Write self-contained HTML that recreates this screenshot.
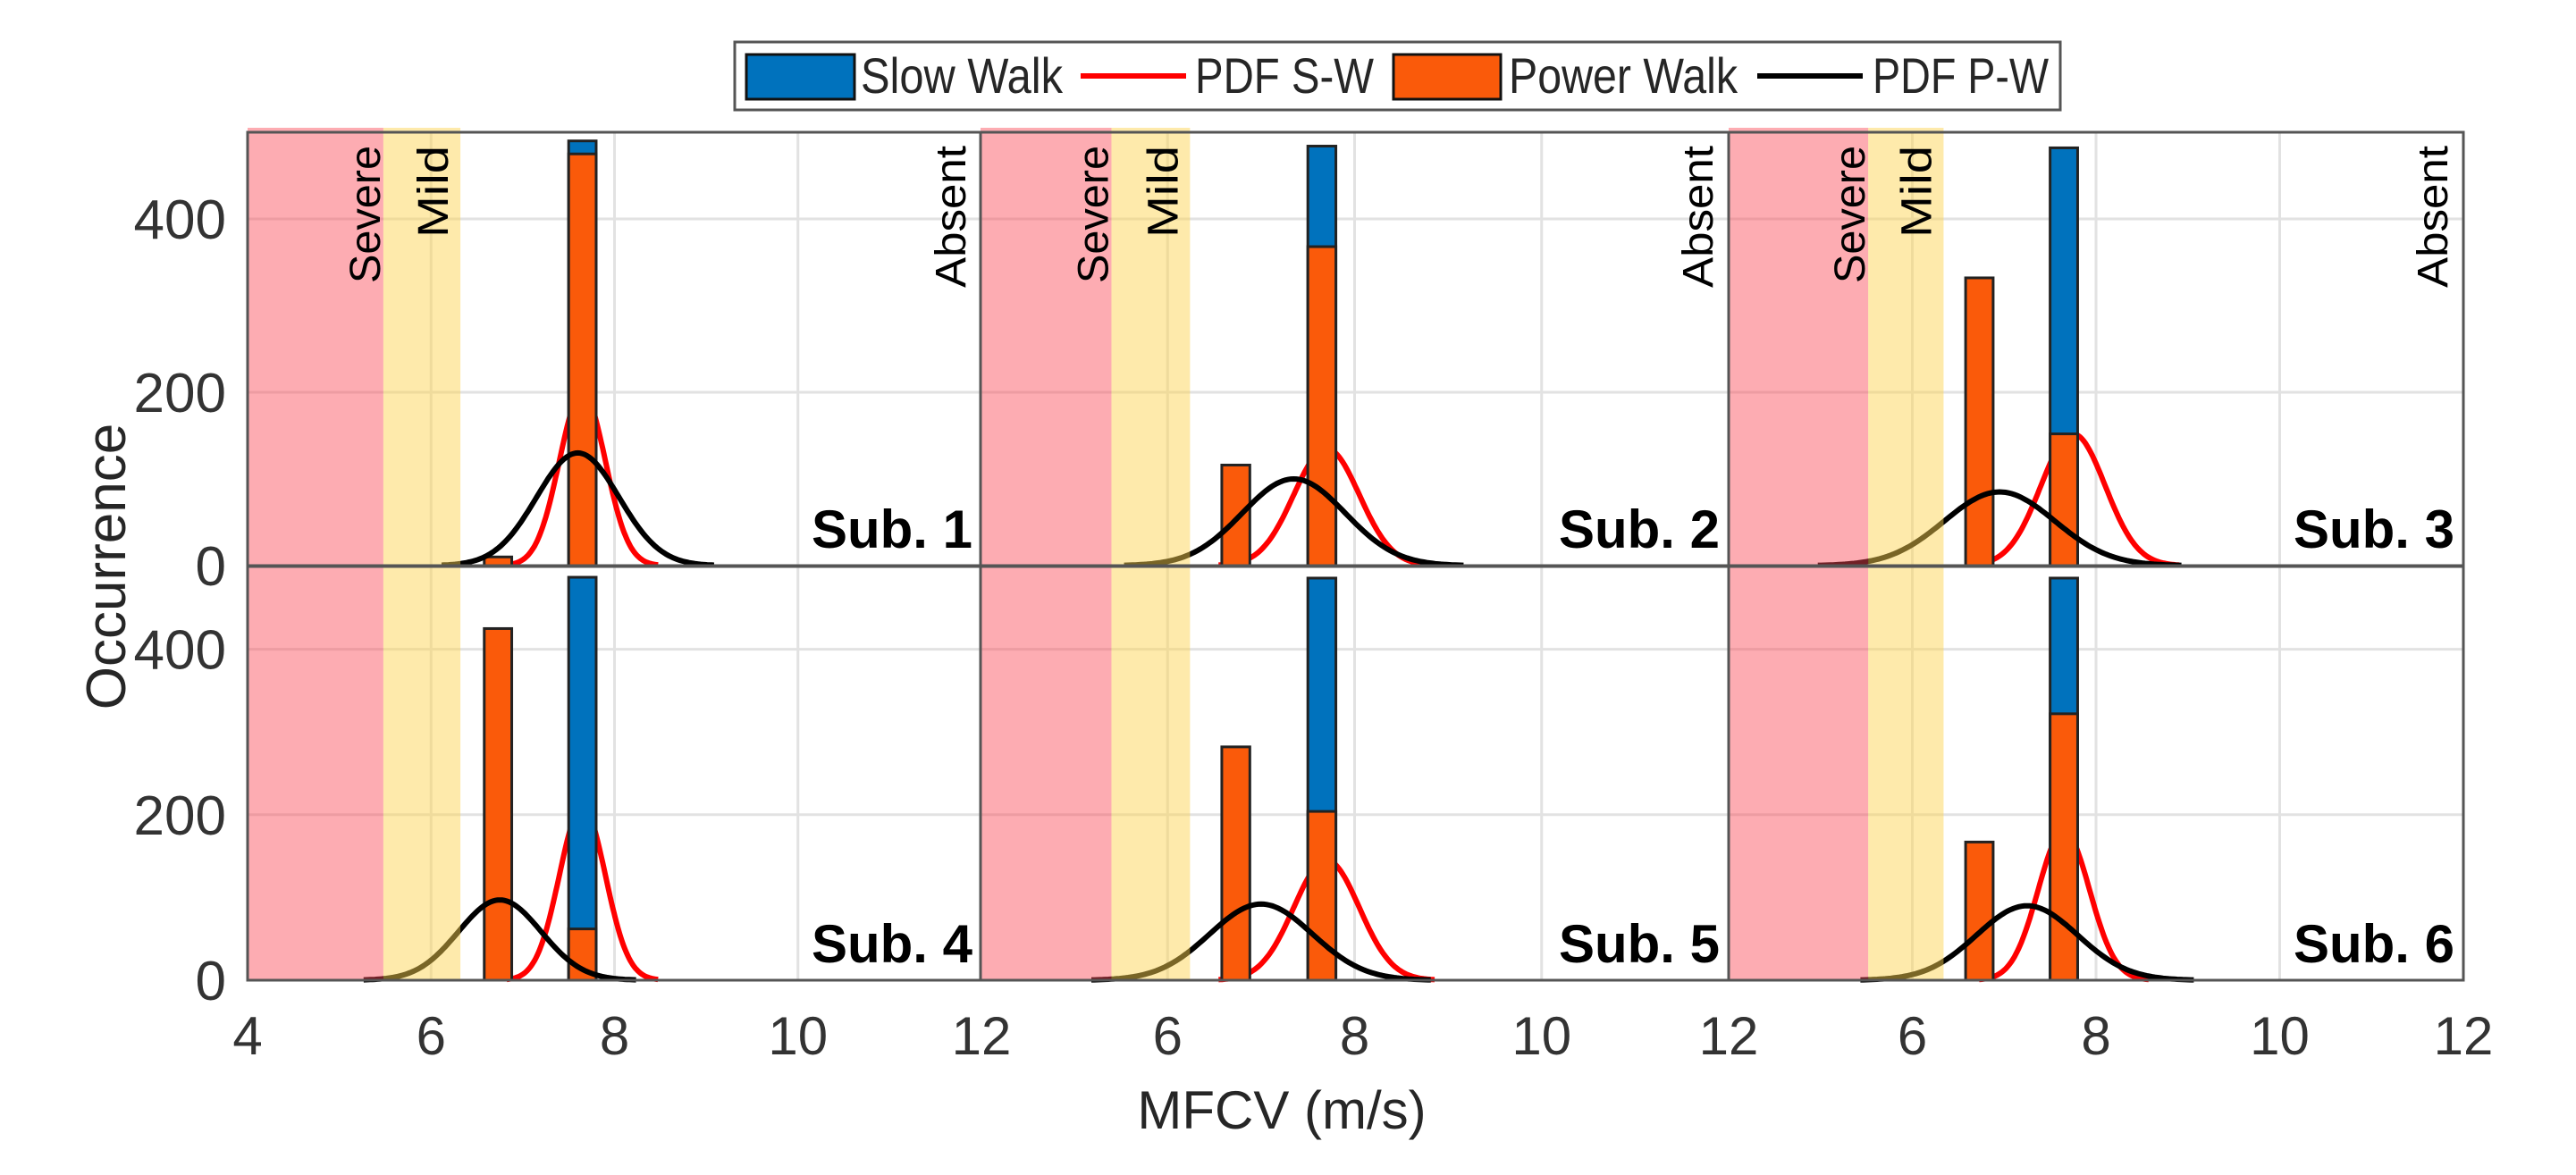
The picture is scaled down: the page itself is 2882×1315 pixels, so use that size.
<!DOCTYPE html>
<html><head><meta charset="utf-8"><style>
html,body{margin:0;padding:0;background:#fff;}
svg{display:block;}
text{font-family:"Liberation Sans",sans-serif;}
</style></head><body>
<svg id="chart" width="2882" height="1315" viewBox="0 0 2882 1315" xmlns="http://www.w3.org/2000/svg">
<g id="legend">
  <rect x="822" y="47" width="1483" height="76" fill="#fff" stroke="#555" stroke-width="3"/>
  <g>
    <rect x="835" y="61" width="121" height="50" fill="#0072bd" stroke="#111" stroke-width="3"/>
    <text x="963" y="104" font-size="56" fill="#262626" textLength="226" lengthAdjust="spacingAndGlyphs">Slow Walk</text>
  </g>
  <g>
    <line x1="1209" y1="85" x2="1327" y2="85" stroke="#ff0000" stroke-width="6"/>
    <text x="1337" y="104" font-size="56" fill="#262626" textLength="200" lengthAdjust="spacingAndGlyphs">PDF S-W</text>
  </g>
  <g>
    <rect x="1559" y="61" width="120" height="50" fill="#fa5a0a" stroke="#111" stroke-width="3"/>
    <text x="1688" y="104" font-size="56" fill="#262626" textLength="256" lengthAdjust="spacingAndGlyphs">Power Walk</text>
  </g>
  <g>
    <line x1="1966" y1="85" x2="2084" y2="85" stroke="#000" stroke-width="6"/>
    <text x="2095" y="104" font-size="56" fill="#262626" textLength="197" lengthAdjust="spacingAndGlyphs">PDF P-W</text>
  </g>
</g>
<g id="panels"></g>
<text x="0" y="0" font-size="62" fill="#262626" text-anchor="middle" transform="translate(140,634) rotate(-90)">Occurrence</text>
<text x="1434" y="1263" font-size="60" fill="#262626" text-anchor="middle">MFCV (m/s)</text>
</svg>
<script>
// ---- data ----
const subjects = ["Sub. 1","Sub. 2","Sub. 3","Sub. 4","Sub. 5","Sub. 6"];
const binLow = [6.58, 6.88];   // low-speed bin edges (m/s)
const binHigh = [7.5, 7.8];    // high-speed bin edges (m/s)
const slowWalkHigh = [490, 484, 482, 487, 486, 486];
const powerWalkHigh = [475, 368, 152, 62, 204, 322];
const powerWalkLow = [10, 116, 332, 425, 282, 167];
const pdfSwMean = [7.65, 7.7, 7.75, 7.65, 7.7, 7.65];
const pdfSwSd = [0.25, 0.35, 0.35, 0.25, 0.35, 0.28];
const pdfSwPeak = [200, 135, 152, 210, 145, 180];
const pdfPwMean = [7.6, 7.35, 6.95, 6.75, 7.0, 7.25];
const pdfPwSd = [0.45, 0.55, 0.6, 0.45, 0.55, 0.55];
const pdfPwPeak = [130, 100, 85, 97, 92, 90];
const severeEnd = [5.48, 5.40, 5.52];
const mildEnd = [6.32, 6.24, 6.34];
const yTicks = [0, 200, 400];
const xGrid = [6, 8, 10];
const xTickLabelsFirst = [4, 6, 8, 10, 12];
const xTickLabelsOther = [6, 8, 10, 12];
const xDomain = [4, 12];
const yDomain = [0, 500];

// ---- layout ----
const colL = [277, 1097, 1934];
const colR = [1098, 1934, 2756];
const rowTop = [148, 634];
const rowZero = [633, 1097];
const NS = "http://www.w3.org/2000/svg";
const root = document.getElementById('panels');
function mk(tag, attrs, parent){const e=document.createElementNS(NS,tag);for(const k in attrs)e.setAttribute(k,attrs[k]);(parent||root).appendChild(e);return e;}
function xScale(c){return v=>colL[c]+(v-xDomain[0])/(xDomain[1]-xDomain[0])*(colR[c]-colL[c]);}
function yScale(r){return v=>rowZero[r]-(v-yDomain[0])/(yDomain[1]-yDomain[0])*(rowZero[r]-rowTop[r]);}

for(let i=0;i<6;i++){
  const r=Math.floor(i/3), c=i%3;
  const X=xScale(c), Y=yScale(r);
  const g=mk('g',{});
  
  
  mk('rect',{x:colL[c],y:rowTop[r],width:colR[c]-colL[c],height:rowZero[r]-rowTop[r],fill:'#fff'},g);
  yTicks.slice(1).forEach(t=>{const l=mk('line',{x1:colL[c],x2:colR[c],y1:Y(t),y2:Y(t),stroke:'#e2e2e2','stroke-width':3},g);
    
    });
  xGrid.forEach(t=>{const l=mk('line',{x1:X(t),x2:X(t),y1:rowTop[r],y2:rowZero[r],stroke:'#e2e2e2','stroke-width':3},g);
    
    });
  function curve(mean,sd,peak,color,name){
    let d='';const a=mean-3.3*sd,b=mean+3.3*sd;
    for(let k=0;k<=120;k++){const v=a+(b-a)*k/120;const y=peak*Math.exp(-0.5*((v-mean)/sd)**2);d+=(k?'L':'M')+X(v).toFixed(1)+','+Y(y).toFixed(1);}
    const p=mk('path',{d:d,fill:'none',stroke:color,'stroke-width':6},g);
    
    
  }
  function bar(lo,hi,val,color,name){
    const b=mk('rect',{x:X(lo),y:Y(val),width:X(hi)-X(lo),height:Y(0)-Y(val),fill:color,stroke:'#222','stroke-width':3},g);
    
    
  }
  curve(pdfSwMean[i],pdfSwSd[i],pdfSwPeak[i],'#ff0000','pdf-sw-curve');
  bar(binHigh[0],binHigh[1],slowWalkHigh[i],'#0072bd','bar-slow-walk');
  bar(binHigh[0],binHigh[1],powerWalkHigh[i],'#fa5a0a','bar-power-walk-high');
  bar(binLow[0],binLow[1],powerWalkLow[i],'#fa5a0a','bar-power-walk-low');
  curve(pdfPwMean[i],pdfPwSd[i],pdfPwPeak[i],'#000000','pdf-pw-curve');
  const top=r===0?143:rowTop[r];
  const sb=mk('rect',{x:X(xDomain[0]),y:top,width:X(severeEnd[c])-X(xDomain[0]),height:rowZero[r]-top,fill:'rgba(250,70,85,0.45)'},g);
  
  
  const mb=mk('rect',{x:X(severeEnd[c]),y:top,width:X(mildEnd[c])-X(severeEnd[c]),height:rowZero[r]-top,fill:'rgba(252,212,80,0.48)'},g);
  
  
  mk('rect',{x:colL[c],y:rowTop[r],width:colR[c]-colL[c],height:rowZero[r]-rowTop[r],fill:'none',stroke:'#555','stroke-width':3},g);
  const sl=mk('text',{x:colR[c]-10,y:rowZero[r]-20,'font-size':60,'font-weight':'bold','text-anchor':'end',fill:'#000'},g);
  sl.textContent=subjects[i];
  
  
  if(r===0){
    const names=['Severe','Mild','Absent'];
    const lens=[154,103,159];
    const xs=[X(severeEnd[c])-4, X(mildEnd[c])-14, colR[c]-18];
    names.forEach((n,k)=>{
      const t=mk('text',{x:0,y:0,'font-size':48,'text-anchor':'end',fill:'#000',textLength:lens[k],lengthAdjust:'spacingAndGlyphs',transform:'translate('+xs[k]+',163) rotate(-90)','font-family':'"DejaVu Sans",sans-serif'},g);
      t.textContent=n;
      
      
    });
  }
  if(c===0){
    yTicks.forEach(t=>{const tl=mk('text',{x:253,y:Y(t)+22,'font-size':62,'text-anchor':'end',fill:'#333'},g);
      tl.textContent=t;
      
      });
  }
  if(r===1){
    (c===0?xTickLabelsFirst:xTickLabelsOther).forEach(t=>{const tl=mk('text',{x:X(t),y:1180,'font-size':60,'text-anchor':'middle',fill:'#333'},g);
      tl.textContent=t;
      
      });
  }
}
</script>
</body></html>
